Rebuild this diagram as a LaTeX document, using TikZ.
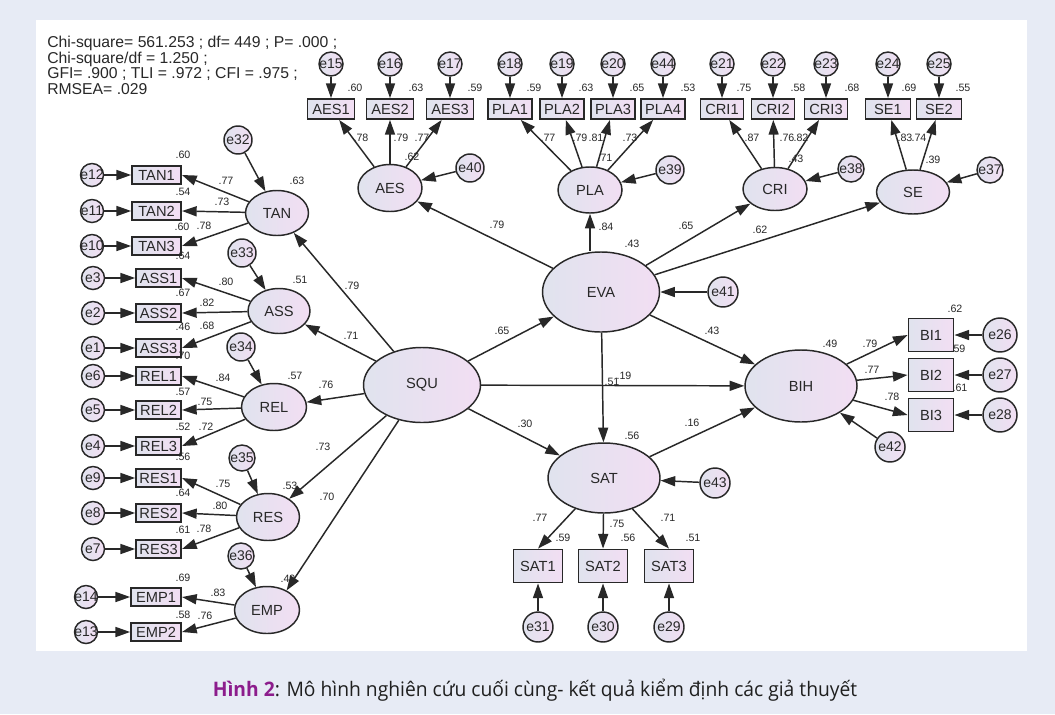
\documentclass[tikz,border=0pt]{standalone}
\usepackage{fontspec}
\setmainfont{Liberation Sans}
\newfontfamily\capfont{Open Sans}
\usetikzlibrary{arrows.meta,shapes.geometric}
\definecolor{bgout}{RGB}{231,235,245}
\definecolor{edge}{RGB}{40,40,40}
\definecolor{gA}{RGB}{224,227,238}
\definecolor{gB}{RGB}{242,222,243}
\definecolor{txt}{RGB}{40,40,40}
\definecolor{capp}{RGB}{140,28,140}
\newcommand\ztext[1]{\makebox[0pt]{#1}}
\newcommand\cf[4]{\node[coef] (#1) at (#2,#3) {#4};}
\begin{document}
\begin{tikzpicture}[x=0.75pt,y=-0.75pt,
  lv/.style 2 args={ellipse, draw=edge, line width=1.1pt, left color=gA, right color=gB, inner sep=0pt, text=txt, font=\fontsize{11}{13}\selectfont, minimum width=#1*0.75pt, minimum height=#2*0.75pt},
  ind/.style 2 args={rectangle, draw=edge, line width=1.4pt, left color=gA, right color=gB, inner sep=0pt, text=txt, font=\fontsize{11}{13}\selectfont, minimum width=#1*0.75pt, minimum height=#2*0.75pt},
  err/.style={circle, draw=edge, line width=1.1pt, left color=gA, right color=gB, inner sep=0pt, text=txt, font=\fontsize{10.5}{12}\selectfont, minimum size=#1*1.5pt},
  coef/.style={inner sep=0pt, text=txt, font=\fontsize{8}{9}\selectfont},
  arr/.style={draw=edge, line width=1.1pt, -{Triangle[length=11pt,width=7.5pt]}}
]
\useasboundingbox (0,0) rectangle (1055,714);
\fill[bgout] (0,0) rectangle (1055,714);
\fill[white] (36,20) rectangle (1027,651);

% fit statistics
\node[anchor=north west, align=left, inner sep=0pt, text=txt, font=\fontsize{11.8}{11.6}\selectfont] (stats) at (47,36)
 {Chi-square= 561.253 ; df= 449 ; P= .000 ;\\Chi-square/df = 1.250 ;\\GFI= .900 ; TLI = .972 ; CFI = .975 ;\\RMSEA= .029};

% ---------- top row ----------
\foreach \n/\x in {15/331,16/390,17/450,18/510,19/562,20/613,44/663,21/722,22/773,23/826,24/888,25/939}
  \node[err=12] (e\n) at (\x,64) {\ztext{e\n}};
\node[ind={47}{20}] (AES1) at (331,109) {AES1};
\node[ind={47}{20}] (AES2) at (390,109) {AES2};
\node[ind={47}{20}] (AES3) at (450,109) {AES3};
\node[ind={44}{20}] (PLA1) at (510,109) {PLA1};
\node[ind={44}{20}] (PLA2) at (562,109) {PLA2};
\node[ind={44}{20}] (PLA3) at (613,109) {PLA3};
\node[ind={44}{20}] (PLA4) at (663,109) {PLA4};
\node[ind={43}{20}] (CRI1) at (722,109) {CRI1};
\node[ind={43}{20}] (CRI2) at (773,109) {CRI2};
\node[ind={43}{20}] (CRI3) at (826,109) {CRI3};
\node[ind={45}{20}] (SE1) at (888,109) {SE1};
\node[ind={45}{20}] (SE2) at (939,109) {SE2};
\foreach \n/\b in {15/AES1,16/AES2,17/AES3,18/PLA1,19/PLA2,20/PLA3,44/PLA4,21/CRI1,22/CRI2,23/CRI3,24/SE1,25/SE2}
  \draw[arr] (e\n) -- (\b);

\node[lv={64}{47}] (AES) at (390,188) {AES};
\node[lv={64}{46}] (PLA) at (590,190) {PLA};
\node[lv={64}{43}] (CRI) at (775,189) {CRI};
\node[lv={73}{44}] (SE) at (913,192) {SE};
\node[err=14] (e40) at (470,168) {\ztext{e40}};
\node[err=14] (e39) at (670,170) {\ztext{e39}};
\node[err=13] (e38) at (851,169) {\ztext{e38}};
\node[err=13] (e37) at (990,170) {\ztext{e37}};

\foreach \l/\b in {AES/AES1,AES/AES2,AES/AES3,PLA/PLA1,PLA/PLA2,PLA/PLA3,PLA/PLA4,CRI/CRI1,CRI/CRI2,CRI/CRI3,SE/SE1,SE/SE2}
  \draw[arr] (\l) -- (\b);
\draw[arr] (e40) -- (AES);
\draw[arr] (e39) -- (PLA);
\draw[arr] (e38) -- (CRI);
\draw[arr] (e37) -- (SE);

% ---------- central ----------
\node[lv={117}{80}] (EVA) at (601,292) {EVA};
\node[lv={117}{75}] (SQU) at (422,385) {SQU};
\node[lv={112}{70}] (SAT) at (604,478) {SAT};
\node[lv={112}{72}] (BIH) at (801,386) {BIH};
\node[err=15] (e41) at (723,292) {\ztext{e41}};
\node[err=15] (e43) at (715,483) {\ztext{e43}};
\node[err=15] (e42) at (890,447) {\ztext{e42}};

\draw[arr] (EVA) -- (AES);
\draw[arr] (EVA.north -| PLA.south) -- (PLA.south);
\draw[arr] (EVA) -- (CRI);
\draw[arr] (EVA) -- (SE);
\draw[arr] (EVA) -- (BIH);
\draw[arr] (EVA) -- (SAT);
\draw[arr] (e41) -- (EVA);
\draw[arr] (SQU) -- (EVA);
\draw[arr] (SQU) -- (SAT);
\draw[arr] (SQU) -- (BIH);
\draw[arr] (SAT) -- (BIH);
\draw[arr] (e43) -- (SAT);
\draw[arr] (e42) -- (BIH);

% ---------- BIH indicators ----------
\node[ind={45}{33}] (BI1) at (931,335) {BI1};
\node[ind={45}{33}] (BI2) at (931,375) {BI2};
\node[ind={45}{33}] (BI3) at (931,415) {BI3};
\node[err=17] (e26) at (1000,335) {\ztext{e26}};
\node[err=17] (e27) at (1000,375) {\ztext{e27}};
\node[err=17] (e28) at (1000,415) {\ztext{e28}};
\foreach \b/\e in {BI1/e26,BI2/e27,BI3/e28}{
  \draw[arr] (BIH) -- (\b.west);
  \draw[arr] (\e) -- (\b);
}

% ---------- SAT indicators ----------
\node[ind={49}{33}] (SAT1) at (538,566) {SAT1};
\node[ind={49}{33}] (SAT2) at (603,566) {SAT2};
\node[ind={49}{33}] (SAT3) at (669,566) {SAT3};
\node[err=15] (e31) at (538,627) {\ztext{e31}};
\node[err=15] (e30) at (603,627) {\ztext{e30}};
\node[err=15] (e29) at (669,627) {\ztext{e29}};
\foreach \b/\e in {SAT1/e31,SAT2/e30,SAT3/e29}{
  \draw[arr] (SAT) -- (\b.north);
  \draw[arr] (\e) -- (\b);
}

% ---------- left side ----------
\node[lv={63}{45}] (TAN) at (277,213) {TAN};
\node[lv={62}{45}] (ASS) at (279,311) {ASS};
\node[lv={65}{47}] (REL) at (274,407) {REL};
\node[lv={63}{47}] (RES) at (268,517) {RES};
\node[lv={65}{47}] (EMP) at (267,610) {EMP};
\node[err=14] (e32) at (238,140) {\ztext{e32}};
\node[err=14] (e33) at (242,253) {\ztext{e33}};
\node[err=14] (e34) at (241,347) {\ztext{e34}};
\node[err=13] (e35) at (242,458) {\ztext{e35}};
\node[err=13] (e36) at (241,556) {\ztext{e36}};
\foreach \e/\l in {e32/TAN,e33/ASS,e34/REL,e35/RES,e36/EMP}
  \draw[arr] (\e) -- (\l);
\foreach \l in {TAN,ASS,REL,RES}
  \draw[arr] (SQU) -- (\l);

\foreach \b/\w/\y/\e/\ex in {TAN1/49/175/e12/92,TAN2/49/211/e11/92,TAN3/49/246/e10/92,
  ASS1/45/278/e3/93,ASS2/45/313/e2/93,ASS3/45/348/e1/93,
  REL1/45/376/e6/93,REL2/45/410/e5/93,REL3/45/446/e4/93,
  RES1/45/478/e9/93,RES2/45/513/e8/93,RES3/45/549/e7/93,
  EMP1/50/597/e14/86,EMP2/50/632/e13/86}{
  \node[ind={\w}{18}, anchor=east] (\b) at (182,\y) {\b};
  \node[err=11.5] (\e) at (\ex,\y) {\ztext{\e}};
  \draw[arr] (\e) -- (\b);
}
\foreach \l/\b in {TAN/TAN1,TAN/TAN2,TAN/TAN3,ASS/ASS1,ASS/ASS2,ASS/ASS3,REL/REL1,REL/REL2,REL/REL3,RES/RES1,RES/RES2,RES/RES3,EMP/EMP1,EMP/EMP2}
  \draw[arr] (\l) -- (\b.east);

% ---------- coefficients ----------
\cf{t1}{355}{88}{.60}\cf{t2}{416}{88}{.63}\cf{t3}{475}{88}{.59}
\cf{t4}{534}{88}{.59}\cf{t5}{586}{88}{.63}\cf{t6}{637}{88}{.65}\cf{t7}{688}{88}{.53}
\cf{t8}{744}{88}{.75}\cf{t9}{798}{88}{.58}\cf{t10}{852}{88}{.68}
\cf{t11}{909}{88}{.69}\cf{t12}{963}{88}{.55}
\cf{a1}{361}{138}{.78}\cf{a2}{401}{138}{.79}\cf{a3}{422}{138}{.77}\cf{a4}{412}{157}{.62}
\cf{p1}{548}{138}{.77}\cf{p2}{580}{138}{.79}\cf{p3}{596}{138}{.81}\cf{p4}{630}{138}{.73}\cf{p5}{605}{158}{.71}
\cf{c1}{752}{138}{.87}\cf{c2}{787}{138}{.76}\cf{c3}{801}{138}{.82}\cf{c4}{796}{159}{.43}
\cf{s1}{905}{138}{.83}\cf{s2}{919}{138}{.74}\cf{s3}{933}{160}{.39}
\cf{m1}{497}{225}{.79}\cf{m2}{606}{227}{.84}\cf{m3}{632}{244}{.43}\cf{m4}{686}{226}{.65}\cf{m5}{760}{230}{.62}
\cf{m6}{352}{286}{.79}\cf{m7}{351}{336}{.71}\cf{m8}{326}{385}{.76}\cf{m9}{323}{447}{.73}\cf{m10}{327}{497}{.70}
\cf{m11}{502}{331}{.65}\cf{m12}{612}{382}{.51}\cf{m13}{624}{376}{.19}\cf{m14}{525}{424}{.30}
\cf{m15}{632}{436}{.56}\cf{m16}{692}{423}{.16}\cf{m17}{712}{331}{.43}\cf{m18}{830}{344}{.49}
\cf{r1}{297}{181}{.63}\cf{r2}{300}{280}{.51}\cf{r3}{295}{376}{.57}\cf{r4}{290}{486}{.53}
\cf{l1}{183}{155}{.60}\cf{l2}{226}{181}{.77}\cf{l3}{183}{192}{.54}\cf{l4}{222}{202}{.73}\cf{l5}{182}{227}{.60}\cf{l6}{204}{226}{.78}
\cf{l7}{183}{256}{.64}\cf{l8}{226}{282}{.80}\cf{l9}{183}{293}{.67}\cf{l10}{207}{303}{.82}\cf{l11}{183}{327}{.46}\cf{l12}{207}{326}{.68}
\cf{l13}{183}{356}{.70}\cf{l14}{223}{378}{.84}\cf{l15}{183}{392}{.57}\cf{l16}{205}{402}{.75}\cf{l17}{183}{427}{.52}\cf{l18}{206}{427}{.72}
\cf{l19}{183}{457}{.56}\cf{l20}{223}{484}{.75}\cf{l21}{183}{493}{.64}\cf{l22}{220}{506}{.80}\cf{l23}{183}{530}{.61}\cf{l24}{204}{529}{.78}
\cf{l25}{183}{578}{.69}\cf{l26}{218}{593}{.83}\cf{l27}{183}{615}{.58}\cf{l28}{205}{616}{.76}
\cf{b1}{870}{344}{.79}\cf{b2}{872}{370}{.77}\cf{b3}{892}{397}{.78}
\cf{b4}{955}{309}{.62}\cf{b5}{958}{349}{.59}\cf{b6}{960}{388}{.61}
\cf{q1}{540}{518}{.77}\cf{q2}{563}{538}{.59}\cf{q3}{617}{524}{.75}\cf{q4}{628}{538}{.56}\cf{q5}{668}{518}{.71}\cf{q6}{693}{538}{.51}
% R2 of EMP, partly under the arrowhead
\cf{r5}{288}{579}{.49}
\draw[arr] (SQU) -- (EMP.45);

% caption
\node[inner sep=0pt, text=black!88, font=\capfont\fontsize{15}{18}\selectfont] (cap) at (535,690)
 {\scalebox{0.963}[1]{\textcolor{capp}{\textbf{Hình 2}}: Mô hình nghiên cứu cuối cùng- kết quả kiểm định các giả thuyết}};
\end{tikzpicture}
\end{document}
